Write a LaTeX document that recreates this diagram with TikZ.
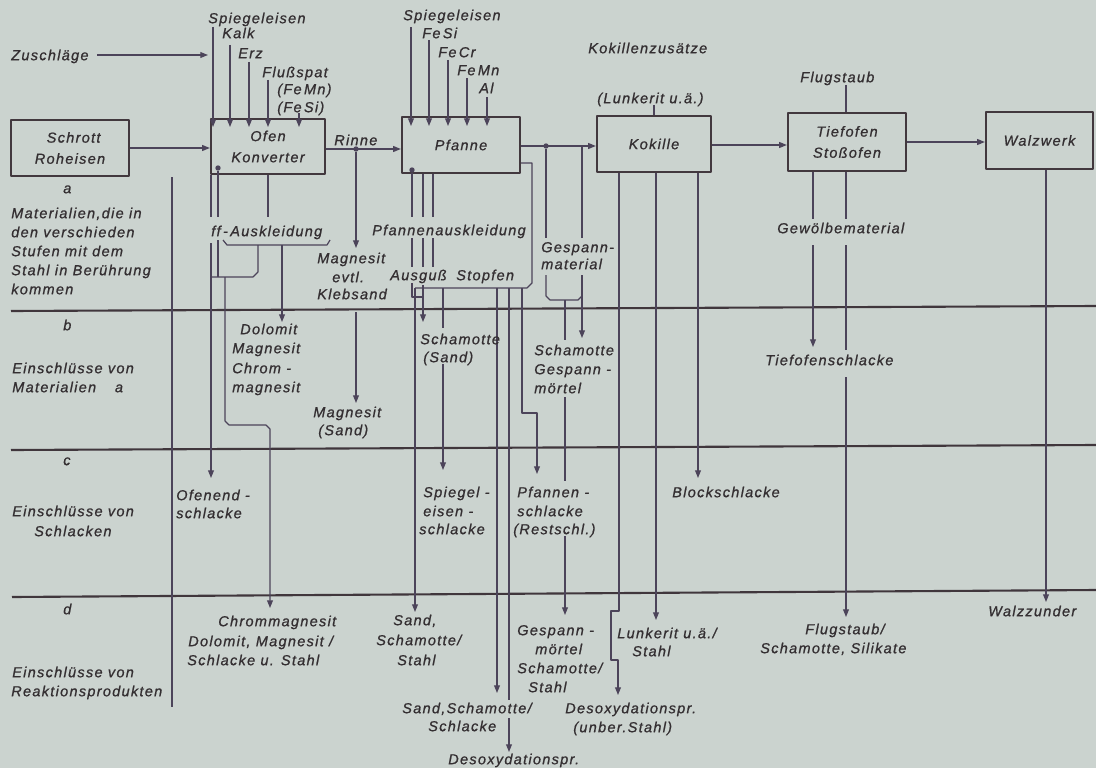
\documentclass[tikz,border=0pt]{standalone}
\usepackage{fontspec}
\newfontfamily\dgfont{Liberation Sans}[LetterSpace=9,FakeBold=0.9]
\usetikzlibrary{arrows.meta}
\definecolor{bgcol}{RGB}{203,211,207}
\definecolor{txtcol}{RGB}{52,47,50}
\definecolor{boxcol}{RGB}{66,56,62}
\definecolor{wirecol}{RGB}{76,68,90}
\definecolor{sepcol}{RGB}{64,54,60}
\newcommand\dgtext{\dgfont\itshape\fontsize{10.3}{15}\selectfont}

\begin{document}
\begin{tikzpicture}[x=0.025cm,y=-0.025cm,line join=round,
  box/.style={draw=boxcol,line width=1.6pt,inner sep=0pt,align=center,font=\dgtext,text=txtcol},
  lbl/.style={inner sep=0pt,anchor=west,font=\dgtext,text=txtcol,text height=7.4pt,text depth=0pt},
  wire/.style={draw=wirecol,line width=0.85pt},
  arr/.style={wire,-{Triangle[length=5.5pt,width=4.2pt]}},
  sep/.style={draw=sepcol,line width=1.5pt},
  jn/.style={circle,fill=wirecol,inner sep=0pt,minimum size=3.8pt}]

% sheet
\fill[bgcol] (0,0) rectangle (1096,768);
\useasboundingbox (0,0) rectangle (1096,768);

% process stations
\node[box,minimum width=2.95cm,minimum height=1.4cm]   (schrott)  at (70,148)     {\hspace*{0.5em}Schrott\\Roheisen};
\node[box,minimum width=2.85cm,minimum height=1.375cm] (ofen)     at (268,146.5)  {Ofen\\Konverter};
\node[box,minimum width=2.95cm,minimum height=1.4cm]   (pfanne)   at (461,145)    {Pfanne};
\node[box,minimum width=2.85cm,minimum height=1.4cm]   (kokille)  at (654,144)    {Kokille};
\node[box,minimum width=2.95cm,minimum height=1.45cm]  (tiefofen) at (847,142)    {Tiefofen\\Stoßofen};
\node[box,minimum width=2.675cm,minimum height=1.425cm](walzwerk) at (1039.5,140.5){Walzwerk};

% row separators and left column rule
\draw[sep] (11,311) -- (1096,306);
\draw[sep] (11,450) -- (1096,445);
\draw[sep] (12,597) -- (1096,590);
\draw[wire] (172,177) -- (172,707);

% row captions
\node[lbl] (ra)  at (63,188)  {a};
\node[lbl] (ra1) at (11,213)  {Materialien,die in};
\node[lbl] (ra2) at (11,232)  {den verschieden};
\node[lbl] (ra3) at (11,251)  {Stufen mit dem};
\node[lbl] (ra4) at (11,270)  {Stahl in Berührung};
\node[lbl] (ra5) at (11,289)  {kommen};
\node[lbl] (rb)  at (63,325)  {b};
\node[lbl] (rb1) at (12,368)  {Einschlüsse von};
\node[lbl] (rb2) at (12,387)  {Materialien\hspace{1.3em}a};
\node[lbl] (rc)  at (63,460)  {c};
\node[lbl] (rc1) at (12,511)  {Einschlüsse von};
\node[lbl] (rc2) at (34,531)  {Schlacken};
\node[lbl] (rd)  at (63,609)  {d};
\node[lbl] (rd1) at (12,672)  {Einschlüsse von};
\node[lbl] (rd2) at (11,691)  {Reaktionsprodukten};

% additions to furnace and ladle
\node[lbl] (zus) at (11,55)  {Zuschläge};
\node[lbl] (o1) at (208,18)  {Spiegeleisen};
\node[lbl] (o2) at (222,33)  {Kalk};
\node[lbl] (o3) at (238,53)  {Erz};
\node[lbl] (o4) at (262,72)  {Flußspat};
\node[lbl] (o5) at (277,89)  {(Fe\,Mn)};
\node[lbl] (o6) at (277,107) {(Fe\,Si)};
\node[lbl] (p1) at (403,15)  {Spiegeleisen};
\node[lbl] (p2) at (422,33)  {Fe\,Si};
\node[lbl] (p3) at (438,52)  {Fe\,Cr};
\node[lbl] (p4) at (457,70)  {Fe\,Mn};
\node[lbl] (p5) at (479,88)  {Al};
\node[lbl] (kz) at (588,48)  {Kokillenzusätze};
\node[lbl] (lk) at (597,98)  {(Lunkerit u.ä.)};
\node[lbl] (fs) at (800,77)  {Flugstaub};

\draw[arr] ([xshift=6pt]zus.east) -- (208,55);
\draw[arr] (213,27) -- (213,127);
\draw[arr] (230,45) -- (230,127);
\draw[arr] (249,62) -- (249,127);
\draw[arr] (268,80) -- (268,127);
\draw[arr] (299,113) -- (299,127);
\draw[arr] (411,27) -- (411,126);
\draw[arr] (429,40) -- (429,126);
\draw[arr] (448,60) -- (448,126);
\draw[arr] (467,78) -- (467,126);
\draw[arr] (487,97) -- (487,126);
\draw[wire] (654,105) -- (kokille.north -| 654,0);
\draw[wire] (846,85) -- (tiefofen.north -| 846,0);

% main flow
\node[lbl] (rinne) at (334,140) {Rinne};
\node[jn] (j1) at (356,149) {};
\node[jn] (j2) at (546,146) {};
\draw[arr] (schrott.east) -- (schrott.east -| ofen.west);
\draw[arr] (ofen.east |- 0,149) -- (pfanne.west |- 0,149);
\draw[arr] (pfanne.east |- 0,146) -- (kokille.west |- 0,146);
\draw[arr] (kokille.east |- 0,145) -- (tiefofen.west |- 0,145);
\draw[arr] (tiefofen.east |- 0,142) -- (walzwerk.west |- 0,142);

% furnace lining
\node[jn] (j0) at (218,168) {};
\node[lbl] (ffa) at (211,231) {ff\,-\,Auskleidung};
\draw[wire] (ofen.south -| 211,0) -- (211,217);
\draw[arr]  (211,243) -- (211,478);
\draw[wire] (j0) -- (218,217);
\draw[wire] (218,240) -- (218,277);
\draw[wire] (ofen.south -| 268,0) -- (268,217);
\draw[wire] (223,240) -- (227,245) -- (327,245) -- (330,240);
\draw[wire] (258,245) -- (258,272) -- (253,277) -- (211,277);
\draw[arr]  (225,277) -- (225,421) -- (229,425) -- (266,425) -- (270,429) -- (270,608);
\draw[arr]  (282,245) -- (282,322);
\draw[arr]  (j1) -- (356,248);
\node[lbl] (mg1) at (317,258) {Magnesit};
\node[lbl] (mg2) at (332,277) {evtl.};
\node[lbl] (mg3) at (317,294) {Klebsand};
\draw[arr]  (356,312) -- (356,403);
\node[lbl] (ms1) at (313,412) {Magnesit};
\node[lbl] (ms2) at (318,430) {(Sand)};
\node[lbl] (do1) at (240,329) {Dolomit};
\node[lbl] (do2) at (232,348) {Magnesit};
\node[lbl] (do3) at (232,368) {Chrom -};
\node[lbl] (do4) at (232,387) {magnesit};
\node[lbl] (of1) at (176,495) {Ofenend -};
\node[lbl] (of2) at (176,513) {schlacke};
\node[lbl] (cm1) at (218,621) {Chrommagnesit};
\node[lbl] (cm2) at (188,641) {Dolomit, Magnesit /};
\node[lbl] (cm3) at (187,660) {Schlacke u. Stahl};

% ladle lining
\node[jn] (jp) at (412,170) {};
\node[lbl] (pfa) at (372,230) {Pfannenauskleidung};
\node[lbl] (aus) at (390,275) {Ausguß};
\node[lbl] (sto) at (456,275) {Stopfen};
\draw[wire] (jp) -- (412,217);
\draw[wire] (412,238) -- (412,267);
\draw[wire] (412,283) -- (412,297) -- (423,297);
\draw[wire] (pfanne.south -| 423,0) -- (423,217);
\draw[wire] (423,238) -- (423,267);
\draw[wire] (pfanne.south -| 433,0) -- (433,217);
\draw[wire] (433,238) -- (433,267);
\draw[wire] (pfanne.east |- 0,163) -- (532,163) -- (532,283) -- (527,288) -- (415,288);
\draw[arr]  (423,285) -- (423,322);
\draw[arr]  (415,288) -- (415,612);
\draw[wire] (443,288) -- (443,328);
\draw[arr]  (443,364) -- (443,470);
\draw[arr]  (497,288) -- (497,693);
\draw[wire] (509,288) -- (509,700);
\draw[arr]  (509,718) -- (509,752);
\draw[arr]  (522,288) -- (522,413) -- (537,413) -- (537,474);
\node[lbl] (sc1) at (420,339) {Schamotte};
\node[lbl] (sc2) at (423,357) {(Sand)};
\node[lbl] (sp1) at (423,492) {Spiegel -};
\node[lbl] (sp2) at (423,511) {eisen -};
\node[lbl] (sp3) at (419,529) {schlacke};
\node[lbl] (pf1) at (517,492) {Pfannen -};
\node[lbl] (pf2) at (517,511) {schlacke};
\node[lbl] (pf3) at (513,529) {(Restschl.)};
\node[lbl] (ss1) at (393,620) {Sand,};
\node[lbl] (ss2) at (376,640) {Schamotte/};
\node[lbl] (ss3) at (397,660) {Stahl};
\node[lbl] (sk1) at (402,708) {Sand,Schamotte/};
\node[lbl] (sk2) at (428,726) {Schlacke};
\node[lbl] (de1) at (448,759) {Desoxydationspr.};

% ingot mould and runner material
\node[lbl] (gm1) at (541,247) {Gespann-};
\node[lbl] (gm2) at (541,264) {material};
\draw[wire] (j2) -- (546,238);
\draw[wire] (546,275) -- (546,296) -- (550,300) -- (578,300) -- (582,296);
\draw[wire] (582,146) -- (582,238);
\draw[arr]  (582,275) -- (582,338);
\draw[wire] (565,300) -- (565,340);
\draw[wire] (565,397) -- (565,481);
\draw[arr]  (565,536) -- (565,615);
\node[lbl] (gs1) at (534,350) {Schamotte};
\node[lbl] (gs2) at (534,369) {Gespann -};
\node[lbl] (gs3) at (534,388) {mörtel};
\node[lbl] (gg1) at (517,630) {Gespann -};
\node[lbl] (gg2) at (535,649) {mörtel};
\node[lbl] (gg3) at (517,668) {Schamotte/};
\node[lbl] (gg4) at (528,687) {Stahl};
\draw[arr]  (kokille.south -| 619,0) -- (619,611) -- (611,611) -- (611,660) -- (618,660) -- (618,695);
\draw[arr]  (kokille.south -| 656,0) -- (656,620);
\draw[arr]  (kokille.south -| 698,0) -- (698,478);
\node[lbl] (bs)  at (672,492) {Blockschlacke};
\node[lbl] (lu1) at (617,633) {Lunkerit u.ä./};
\node[lbl] (lu2) at (632,651) {Stahl};
\node[lbl] (du1) at (565,708) {Desoxydationspr.};
\node[lbl] (du2) at (573,727) {(unber.Stahl)};

% soaking pit and rolling mill
\node[lbl] (gw) at (777,228) {Gewölbematerial};
\draw[wire] (tiefofen.south -| 813,0) -- (813,219);
\draw[arr]  (813,245) -- (813,347);
\draw[wire] (tiefofen.south -| 846,0) -- (846,219);
\draw[wire] (846,245) -- (846,350);
\draw[arr]  (846,377) -- (846,617);
\node[lbl] (ts)  at (765,360) {Tiefofenschlacke};
\node[lbl] (fl1) at (805,629) {Flugstaub/};
\node[lbl] (fl2) at (760,648) {Schamotte, Silikate};
\draw[arr]  (walzwerk.south -| 1046,0) -- (1046,602);
\node[lbl] (wz) at (988,611) {Walzzunder};

\end{tikzpicture}
\end{document}
